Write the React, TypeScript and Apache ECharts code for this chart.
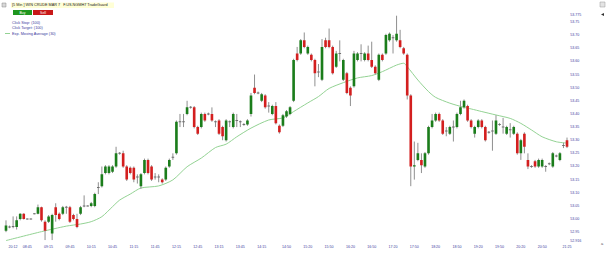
import React, { useEffect, useRef } from "react";
import * as echarts from "echarts";

// 5-minute bar times, first bar 08:15
const times: string[] = [];
for (let i = 0; i < 159; i++) {
  const m = 8 * 60 + 15 + 5 * i;
  times.push(`${String(Math.floor(m / 60)).padStart(2, "0")}:${String(m % 60).padStart(2, "0")}`);
}

// tick labels on the time axis (bar index -> text)
const xTickIndex = [2, 6, 12, 18, 24, 30, 36, 42, 48, 54, 60, 66, 72, 79, 85, 91, 97, 103, 109, 115, 121, 127, 133, 139, 145, 151, 158];
const xTickText = ["20:12", "08:45", "09:15", "09:45", "10:15", "10:45", "11:15", "11:45", "12:15", "12:45", "13:15", "13:45", "14:15", "14:50", "15:20", "15:50", "16:20", "16:50", "17:20", "17:50", "18:20", "18:50", "19:20", "19:50", "20:20", "20:50", "21:25"];

// price tick labels
const yTickValues = [52.916, 52.95, 53.0, 53.05, 53.1, 53.15, 53.2, 53.25, 53.3, 53.35, 53.4, 53.45, 53.5, 53.55, 53.6, 53.65, 53.7, 53.75, 53.775];

// [open, close, low, high]
const candles: [number, number, number, number][] = [
  [52.955, 52.975, 52.95, 52.995],
  [52.97, 52.97, 52.965, 52.975],
  [52.97, 52.972, 52.965, 53.01],
  [52.97, 52.995, 52.96, 53.01],
  [53.0, 53.02, 52.995, 53.022],
  [53.02, 53.0, 52.998, 53.022],
  [53.0, 53.0, 52.998, 53.002],
  [53.0, 53.0, 52.998, 53.002],
  [53.02, 53.02, 53.018, 53.022],
  [53.02, 53.045, 53.018, 53.055],
  [53.045, 52.995, 52.99, 53.047],
  [52.99, 52.955, 52.92, 52.995],
  [52.99, 53.01, 52.985, 53.015],
  [52.945, 53.015, 52.92, 53.02],
  [53.045, 53.015, 52.99, 53.06],
  [53.02, 53.0, 52.995, 53.025],
  [53.02, 53.045, 53.015, 53.05],
  [53.045, 53.045, 53.02, 53.05],
  [53.045, 52.99, 52.985, 53.05],
  [53.015, 53.0, 52.995, 53.02],
  [53.0, 52.97, 52.965, 53.02],
  [53.02, 53.045, 53.015, 53.05],
  [53.05, 53.05, 53.045, 53.09],
  [53.05, 53.05, 53.048, 53.052],
  [53.05, 53.06, 53.045, 53.065],
  [53.05, 53.095, 53.045, 53.1],
  [53.12, 53.12, 53.095, 53.14],
  [53.125, 53.17, 53.12, 53.2],
  [53.175, 53.2, 53.17, 53.205],
  [53.175, 53.2, 53.17, 53.205],
  [53.18, 53.2, 53.175, 53.205],
  [53.2, 53.25, 53.195, 53.275],
  [53.25, 53.25, 53.245, 53.255],
  [53.25, 53.2, 53.195, 53.26],
  [53.2, 53.15, 53.145, 53.205],
  [53.195, 53.175, 53.17, 53.2],
  [53.195, 53.15, 53.14, 53.2],
  [53.16, 53.16, 53.135, 53.17],
  [53.125, 53.17, 53.115, 53.175],
  [53.175, 53.225, 53.17, 53.23],
  [53.225, 53.175, 53.17, 53.23],
  [53.2, 53.15, 53.145, 53.205],
  [53.16, 53.16, 53.15, 53.175],
  [53.16, 53.16, 53.14, 53.17],
  [53.15, 53.14, 53.135, 53.155],
  [53.15, 53.195, 53.145, 53.2],
  [53.2, 53.225, 53.195, 53.23],
  [53.235, 53.235, 53.225, 53.25],
  [53.25, 53.37, 53.245, 53.375],
  [53.37, 53.37, 53.35, 53.4],
  [53.37, 53.37, 53.35, 53.4],
  [53.4, 53.425, 53.395, 53.45],
  [53.425, 53.425, 53.42, 53.43],
  [53.425, 53.35, 53.345, 53.43],
  [53.35, 53.325, 53.32, 53.355],
  [53.35, 53.4, 53.345, 53.405],
  [53.4, 53.375, 53.37, 53.405],
  [53.4, 53.4, 53.395, 53.405],
  [53.4, 53.375, 53.37, 53.425],
  [53.37, 53.37, 53.35, 53.375],
  [53.375, 53.325, 53.32, 53.38],
  [53.35, 53.315, 53.3, 53.355],
  [53.3, 53.375, 53.295, 53.38],
  [53.37, 53.37, 53.35, 53.375],
  [53.35, 53.4, 53.345, 53.405],
  [53.375, 53.375, 53.35, 53.4],
  [53.37, 53.37, 53.35, 53.375],
  [53.36, 53.36, 53.355, 53.365],
  [53.36, 53.375, 53.355, 53.38],
  [53.4, 53.47, 53.39, 53.48],
  [53.5, 53.48, 53.475, 53.55],
  [53.48, 53.48, 53.475, 53.485],
  [53.45, 53.475, 53.445, 53.48],
  [53.47, 53.425, 53.42, 53.475],
  [53.43, 53.43, 53.405, 53.445],
  [53.4, 53.43, 53.395, 53.435],
  [53.43, 53.365, 53.36, 53.445],
  [53.355, 53.33, 53.325, 53.36],
  [53.355, 53.395, 53.35, 53.4],
  [53.39, 53.41, 53.385, 53.415],
  [53.4, 53.425, 53.395, 53.43],
  [53.45, 53.605, 53.445, 53.61],
  [53.63, 53.605, 53.6, 53.655],
  [53.63, 53.68, 53.625, 53.685],
  [53.68, 53.655, 53.65, 53.71],
  [53.63, 53.655, 53.625, 53.66],
  [53.625, 53.605, 53.6, 53.63],
  [53.605, 53.555, 53.505, 53.61],
  [53.56, 53.56, 53.54, 53.59],
  [53.53, 53.655, 53.525, 53.685],
  [53.68, 53.655, 53.65, 53.69],
  [53.68, 53.655, 53.65, 53.725],
  [53.655, 53.555, 53.55, 53.66],
  [53.58, 53.63, 53.575, 53.64],
  [53.63, 53.63, 53.6, 53.68],
  [53.53, 53.605, 53.525, 53.61],
  [53.555, 53.48, 53.475, 53.56],
  [53.5, 53.47, 53.43, 53.505],
  [53.505, 53.63, 53.5, 53.64],
  [53.605, 53.63, 53.6, 53.635],
  [53.63, 53.63, 53.6, 53.665],
  [53.605, 53.63, 53.6, 53.635],
  [53.63, 53.605, 53.6, 53.66],
  [53.605, 53.58, 53.575, 53.675],
  [53.58, 53.555, 53.55, 53.585],
  [53.53, 53.625, 53.525, 53.63],
  [53.625, 53.605, 53.6, 53.63],
  [53.63, 53.7, 53.625, 53.705],
  [53.68, 53.705, 53.675, 53.71],
  [53.69, 53.69, 53.63, 53.7],
  [53.68, 53.705, 53.675, 53.775],
  [53.68, 53.655, 53.65, 53.72],
  [53.65, 53.63, 53.625, 53.655],
  [53.625, 53.47, 53.455, 53.63],
  [53.47, 53.2, 53.125, 53.475],
  [53.2, 53.205, 53.15, 53.295],
  [53.225, 53.25, 53.22, 53.29],
  [53.225, 53.205, 53.175, 53.25],
  [53.2, 53.25, 53.195, 53.255],
  [53.25, 53.35, 53.245, 53.355],
  [53.35, 53.375, 53.345, 53.4],
  [53.375, 53.4, 53.37, 53.405],
  [53.4, 53.375, 53.37, 53.405],
  [53.375, 53.325, 53.32, 53.38],
  [53.335, 53.335, 53.315, 53.35],
  [53.325, 53.35, 53.32, 53.355],
  [53.35, 53.35, 53.295, 53.375],
  [53.35, 53.4, 53.345, 53.405],
  [53.4, 53.425, 53.395, 53.45],
  [53.425, 53.45, 53.42, 53.455],
  [53.43, 53.375, 53.37, 53.435],
  [53.375, 53.35, 53.345, 53.38],
  [53.325, 53.35, 53.31, 53.355],
  [53.35, 53.375, 53.345, 53.38],
  [53.375, 53.35, 53.345, 53.38],
  [53.35, 53.3, 53.295, 53.355],
  [53.33, 53.33, 53.325, 53.335],
  [53.335, 53.335, 53.26, 53.375],
  [53.325, 53.375, 53.32, 53.395],
  [53.36, 53.36, 53.355, 53.365],
  [53.35, 53.35, 53.325, 53.385],
  [53.325, 53.35, 53.32, 53.355],
  [53.34, 53.34, 53.31, 53.365],
  [53.325, 53.35, 53.32, 53.355],
  [53.325, 53.25, 53.245, 53.33],
  [53.25, 53.3, 53.225, 53.305],
  [53.325, 53.275, 53.25, 53.33],
  [53.225, 53.2, 53.19, 53.25],
  [53.2, 53.2, 53.195, 53.205],
  [53.22, 53.2, 53.195, 53.225],
  [53.2, 53.225, 53.195, 53.23],
  [53.2, 53.225, 53.195, 53.23],
  [53.2, 53.2, 53.18, 53.205],
  [53.21, 53.21, 53.205, 53.215],
  [53.2, 53.25, 53.195, 53.255],
  [53.24, 53.24, 53.235, 53.245],
  [53.225, 53.25, 53.22, 53.255],
  [53.28, 53.28, 53.27, 53.29],
  [53.3, 53.275, 53.27, 53.31],
];

// Exp. Moving Average (30): [bar index, value]
const emaPoints: [number, number][] = [
  [0, 52.918], [10, 52.952], [17, 52.973], [21, 52.981], [24, 52.99], [27, 53.009], [30, 53.047],
  [32, 53.072], [35, 53.095], [38, 53.118], [43, 53.126], [47, 53.149], [51, 53.199], [55, 53.232],
  [59, 53.272], [62, 53.285], [65, 53.313], [69, 53.346], [74, 53.377], [78, 53.385], [81, 53.409],
  [85, 53.442], [88, 53.466], [91, 53.497], [95, 53.519], [99, 53.537], [103, 53.546], [106, 53.561],
  [110, 53.586], [112, 53.593], [113, 53.58], [116, 53.529], [119, 53.485], [121, 53.463], [125, 53.441],
  [129, 53.425], [131, 53.419], [134, 53.409], [138, 53.396], [142, 53.383], [145, 53.364], [148, 53.339],
  [151, 53.313], [155, 53.294], [158, 53.289],
];

const lastPrice = 53.275;

const LABEL_BLUE = "#3b3b9e";
const FONT = "Liberation Sans, Arial, sans-serif";

export default function App() {
  const ref = useRef<HTMLDivElement>(null);

  useEffect(() => {
    if (!ref.current) return;
    const chart = echarts.init(ref.current, undefined, { renderer: "svg" });
    const tickMap: Record<number, string> = {};
    xTickIndex.forEach((idx, k) => (tickMap[idx] = xTickText[k]));

    const option: any = {
      animation: false,
      backgroundColor: "#ffffff",
      textStyle: { fontFamily: FONT },
      grid: { left: 4.22, right: 40.22, top: 15.4, bottom: 11.9 },
      xAxis: {
        type: "category",
        data: times,
        boundaryGap: true,
        axisLine: { show: false },
        axisTick: { show: false },
        splitLine: { show: false },
        axisLabel: {
          interval: (idx: number) => tickMap[idx] !== undefined,
          formatter: (_v: string, idx: number) => tickMap[idx] ?? "",
          fontSize: 3.6,
          color: LABEL_BLUE,
          margin: 4,
          fontFamily: FONT,
        },
      },
      yAxis: {
        type: "value",
        position: "right",
        min: 52.916,
        max: 53.775,
        axisLine: { show: false },
        axisTick: { show: false },
        splitLine: { show: false },
        axisLabel: {
          customValues: yTickValues,
          fontSize: 3.6,
          color: LABEL_BLUE,
          margin: 1.5,
          fontFamily: FONT,
          formatter: (v: number) =>
            Math.round(v * 1000) % 10 !== 0 ? v.toFixed(3) : v.toFixed(2),
        },
      },
      series: [
        {
          type: "custom",
          clip: true,
          data: candles.map((c, i) => [i, c[0], c[1], c[2], c[3]]),
          encode: { x: 0, y: [1, 2, 3, 4] },
          renderItem: (_params: any, api: any) => {
            const idx = api.value(0);
            const o = api.value(1);
            const c = api.value(2);
            const l = api.value(3);
            const h = api.value(4);
            const top = api.coord([idx, Math.max(o, c)]);
            const bot = api.coord([idx, Math.min(o, c)]);
            const hi = api.coord([idx, h]);
            const lo = api.coord([idx, l]);
            const bw = api.size([1, 0])[0] * 0.74;
            const x = top[0];
            const doji = Math.abs(o - c) < 0.0025;
            const fill = doji ? "#6e6e6e" : c > o ? "#1b7d1b" : "#d31f1f";
            const bodyH = doji ? 1 : Math.max(bot[1] - top[1], 1);
            const bodyY = doji ? top[1] - 0.5 : top[1];
            return {
              type: "group",
              children: [
                {
                  type: "line",
                  shape: { x1: x, y1: hi[1], x2: x, y2: lo[1] },
                  style: { stroke: "#8f8f8f", lineWidth: 1 },
                },
                {
                  type: "rect",
                  shape: { x: x - bw / 2, y: bodyY, width: bw, height: bodyH },
                  style: { fill },
                },
              ],
            };
          },
          z: 3,
        },
        {
          type: "line",
          name: "Exp. Moving Average (30)",
          data: emaPoints,
          smooth: 0.25,
          symbol: "none",
          lineStyle: { color: "#93d293", width: 1 },
          z: 2,
          markLine: {
            silent: true,
            symbol: ["none", "none"],
            lineStyle: { opacity: 0 },
            data: [{ yAxis: lastPrice }],
            label: {
              show: true,
              position: "end",
              distance: 0,
              formatter: lastPrice.toFixed(3),
              backgroundColor: "#ffffc8",
              borderColor: "#b0b0a0",
              borderWidth: 0.5,
              padding: [0.6, 1.2],
              fontSize: 3.6,
              color: LABEL_BLUE,
              fontFamily: FONT,
            },
          },
        },
      ],
      graphic: [
        { type: "rect", shape: { x: 2, y: 3, width: 4, height: 4 }, style: { fill: "#d8d8d8", stroke: "#888", lineWidth: 0.5 } },
        { type: "rect", shape: { x: 11, y: 2.5, width: 103, height: 5.5 }, style: { fill: "#ffffd6" } },
        {
          type: "text",
          x: 12,
          y: 5.3,
          style: { text: "[5 Min ] WIN CRUDE MAR 7   F.US.NGMH7 TradeGuard", fontSize: 3.8, fill: "#222", fontFamily: FONT, textVerticalAlign: "middle" },
        },
        { type: "rect", shape: { x: 13, y: 10, width: 19, height: 5 }, style: { fill: "#1e961e" } },
        { type: "text", x: 22.5, y: 12.6, style: { text: "Buy", fontSize: 3.5, fill: "#fff", fontFamily: FONT, align: "center", verticalAlign: "middle" } },
        { type: "rect", shape: { x: 33, y: 10, width: 20, height: 5 }, style: { fill: "#c81818" } },
        { type: "text", x: 43, y: 12.6, style: { text: "Sell", fontSize: 3.5, fill: "#fff", fontFamily: FONT, align: "center", verticalAlign: "middle" } },
        { type: "text", x: 12, y: 23, style: { text: "Click Stop: (100)", fontSize: 3.8, fill: LABEL_BLUE, fontFamily: FONT, verticalAlign: "middle" } },
        { type: "text", x: 12, y: 28.2, style: { text: "Click Target: (100)", fontSize: 3.8, fill: LABEL_BLUE, fontFamily: FONT, verticalAlign: "middle" } },
        { type: "line", shape: { x1: 5, y1: 33.5, x2: 10, y2: 33.5 }, style: { stroke: "#93d293", lineWidth: 1 } },
        { type: "text", x: 12, y: 33.5, style: { text: "Exp. Moving Average (30)", fontSize: 3.8, fill: LABEL_BLUE, fontFamily: FONT, verticalAlign: "middle" } },
        { type: "rect", shape: { x: 600, y: 2, width: 5, height: 5 }, style: { fill: "#e4e4e4", stroke: "#999", lineWidth: 0.5 } },
        { type: "polygon", shape: { points: [[601, 14.5], [604, 13], [604, 16]] }, style: { fill: "#333" } },
        { type: "text", x: 601, y: 243, style: { text: "a", fontSize: 4, fill: "#555", fontFamily: FONT, verticalAlign: "middle" } },
      ],
    };

    chart.setOption(option);
    return () => chart.dispose();
  }, []);

  return (
    <div
      ref={ref}
      style={{ position: "absolute", left: 0, top: 0, width: 609, height: 253, background: "#fff" }}
    />
  );
}
